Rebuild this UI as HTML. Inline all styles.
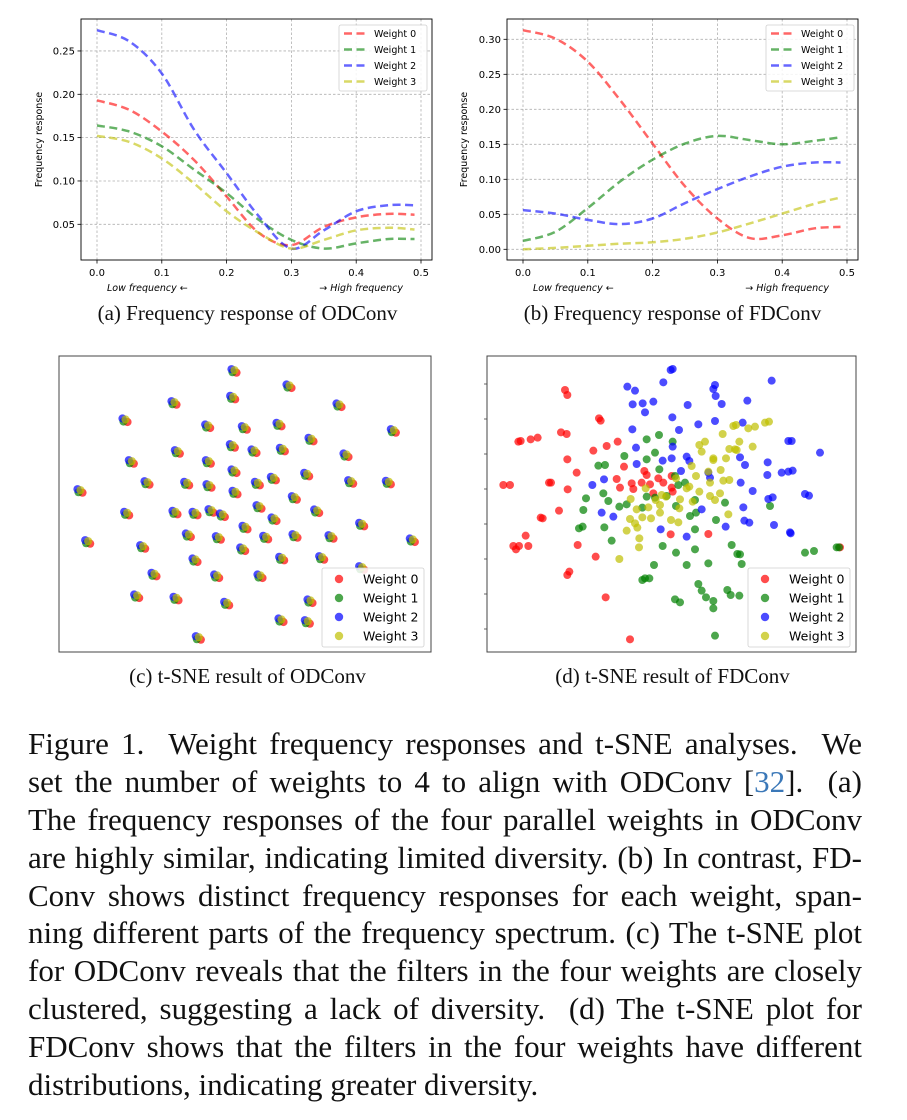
<!DOCTYPE html>
<html><head><meta charset="utf-8">
<style>
body{margin:0;background:#fff;width:907px;height:1120px;position:relative;overflow:hidden;font-family:"Liberation Serif",serif}
.cap{position:absolute;font-size:21px;color:#111;text-align:center;white-space:nowrap}
#text{position:absolute;left:28px;top:725px;width:834px;font-size:31px;line-height:37.9px;color:#111}
#text div{text-align:justify;text-align-last:justify;white-space:nowrap;height:37.9px}
#text div.last{text-align-last:left}
svg text{font-family:"DejaVu Sans","Liberation Sans",sans-serif}
</style></head><body>
<svg id="fig" width="907" height="700" style="position:absolute;left:0;top:0"></svg>
<div class="cap" style="left:60px;top:301px;width:375px">(a) Frequency response of ODConv</div>
<div class="cap" style="left:485px;top:301px;width:375px">(b) Frequency response of FDConv</div>
<div class="cap" style="left:60px;top:664px;width:375px">(c) t-SNE result of ODConv</div>
<div class="cap" style="left:485px;top:664px;width:375px">(d) t-SNE result of FDConv</div>
<div id="text">
<div>Figure 1.&nbsp; Weight frequency responses and t-SNE analyses.&nbsp; We</div>
<div>set the number of weights to 4 to align with ODConv [<span style="color:#3b78b8">32</span>].&nbsp; (a)</div>
<div>The frequency responses of the four parallel weights in ODConv</div>
<div>are highly similar, indicating limited diversity. (b) In contrast, FD-</div>
<div>Conv shows distinct frequency responses for each weight, span-</div>
<div>ning different parts of the frequency spectrum. (c) The t-SNE plot</div>
<div>for ODConv reveals that the filters in the four weights are closely</div>
<div>clustered, suggesting a lack of diversity.&nbsp; (d) The t-SNE plot for</div>
<div>FDConv shows that the filters in the four weights have different</div>
<div class="last">distributions, indicating greater diversity.</div>
</div>
<script>
const freqX=[0,0.05,0.1,0.15,0.2,0.25,0.3,0.35,0.4,0.45,0.49];
const odW0=[0.193,0.182,0.157,0.124,0.082,0.040,0.026,0.047,0.058,0.062,0.061];
const odW1=[0.164,0.157,0.140,0.113,0.086,0.055,0.032,0.022,0.028,0.033,0.033];
const odW2=[0.274,0.261,0.224,0.159,0.109,0.059,0.022,0.043,0.065,0.072,0.072];
const odW3=[0.152,0.145,0.126,0.097,0.065,0.040,0.022,0.032,0.043,0.046,0.044];
const fdW0=[0.313,0.301,0.268,0.213,0.151,0.090,0.044,0.016,0.020,0.030,0.032];
const fdW1=[0.012,0.025,0.059,0.097,0.128,0.151,0.162,0.156,0.150,0.155,0.160];
const fdW2=[0.056,0.051,0.042,0.036,0.044,0.066,0.086,0.104,0.118,0.124,0.124];
const fdW3=[0.000,0.002,0.005,0.008,0.010,0.015,0.024,0.037,0.051,0.065,0.074];
const xTicks=[0,0.1,0.2,0.3,0.4,0.5];
const odYTicks=[0.05,0.10,0.15,0.20,0.25];
const fdYTicks=[0,0.05,0.10,0.15,0.20,0.25,0.30];
const seriesNames=["Weight 0","Weight 1","Weight 2","Weight 3"];
const odTsne=[[537,77],[702,123],[852,180],[357,173],[210,225],[533,157],[1015,257],[458,243],[568,248],[672,238],[768,283],[367,320],[532,302],[597,318],[682,313],[873,330],[229,350],[460,350],[537,378],[755,388],[276,413],[395,415],[462,422],[655,400],[607,415],[887,410],[1000,412],[75,437],[540,442],[718,458],[215,505],[360,502],[420,505],[468,497],[502,510],[612,485],[785,498],[920,538],[657,522],[570,547],[98,590],[263,605],[400,570],[490,578],[632,577],[720,572],[828,575],[1072,585],[420,645],[563,612],[680,640],[800,638],[920,668],[297,688],[485,693],[615,693],[245,753],[363,760],[515,775],[765,768],[678,825],[757,830],[430,878]];
const fdTsne0=[[255,135],[262,150],[115,290],[122,288],[152,283],[173,278],[243,262],[260,267],[357,220],[362,227],[262,343],[290,383],[207,413],[213,413],[70,420],[90,420],[263,433],[237,497],[182,518],[188,520],[137,572],[100,603],[108,613],[117,603],[145,603],[293,600],[347,635],[262,690],[268,680],[377,757],[450,883],[340,317],[380,303],[413,290],[432,365],[410,402],[420,428],[455,415],[460,432],[493,378],[500,390],[485,413],[510,418],[520,445],[535,400],[550,413],[575,393],[575,428],[578,440],[572,568],[685,567],[1080,607]];
const fdTsne1=[[537,270],[500,283],[578,290],[433,333],[355,362],[375,360],[500,343],[525,323],[538,373],[615,413],[370,445],[385,468],[318,460],[310,495],[440,478],[418,485],[487,488],[500,455],[525,458],[560,453],[588,483],[630,513],[648,503],[645,465],[708,525],[735,473],[870,483],[297,550],[308,545],[373,547],[395,587],[548,603],[588,623],[645,553],[645,613],[620,660],[685,655],[755,600],[772,627],[780,628],[785,657],[522,660],[495,700],[487,705],[508,700],[655,717],[665,737],[678,757],[700,768],[700,790],[742,735],[752,750],[778,752],[585,763],[600,772],[705,872],[975,623],[1002,618],[1070,607],[1077,607],[585,393],[595,420]];
const fdTsne2=[[572,75],[578,72],[442,125],[465,137],[550,112],[458,178],[488,175],[495,202],[520,170],[705,120],[700,132],[707,153],[725,177],[802,167],[875,107],[623,180],[577,217],[597,255],[655,238],[705,228],[788,233],[457,253],[468,308],[470,357],[548,347],[578,305],[575,340],[620,335],[628,348],[603,378],[685,383],[690,398],[780,337],[795,360],[863,352],[862,390],[905,383],[925,380],[938,377],[925,288],[935,288],[1020,323],[782,413],[818,438],[975,447],[987,452],[865,462],[878,457],[790,487],[793,527],[808,533],[882,540],[930,562],[932,565],[737,545],[665,493],[620,575],[542,553],[400,515],[365,503],[337,420],[372,403]];
const fdTsne3=[[760,243],[768,240],[805,250],[825,245],[855,233],[867,230],[728,267],[658,300],[675,290],[665,320],[700,340],[700,345],[738,340],[748,312],[765,313],[778,290],[818,305],[770,315],[635,363],[648,393],[685,380],[722,375],[730,407],[748,405],[690,413],[628,425],[620,430],[600,463],[598,490],[638,470],[658,440],[690,453],[705,465],[720,445],[745,508],[588,400],[545,450],[558,455],[527,465],[540,480],[540,503],[505,487],[470,493],[452,462],[497,430],[487,517],[513,520],[450,522],[465,535],[472,548],[440,557],[478,580],[477,607],[418,642],[573,525],[595,532]];

const NS="http://www.w3.org/2000/svg";
const svg=document.getElementById('fig');
function mk(tag,attrs,parent){const e=document.createElementNS(NS,tag);for(const k in attrs)e.setAttribute(k,attrs[k]);(parent||svg).appendChild(e);return e;}
const lineColsA=["rgba(255,0,0,0.6)","rgba(0,128,0,0.6)","rgba(0,0,255,0.6)","rgba(191,191,0,0.6)"];
function smoothPath(pts){let d="M"+pts[0][0]+","+pts[0][1];for(let i=0;i<pts.length-1;i++){const p0=pts[Math.max(0,i-1)],p1=pts[i],p2=pts[i+1],p3=pts[Math.min(pts.length-1,i+2)];const c1=[p1[0]+(p2[0]-p0[0])/6,p1[1]+(p2[1]-p0[1])/6],c2=[p2[0]-(p3[0]-p1[0])/6,p2[1]-(p3[1]-p1[1])/6];d+=" C"+c1+" "+c2+" "+p2;}return d;}
function lineChart(o){
  const g=mk('g',{});
  
  
  const X=v=>o.x0+v*648, Y=v=>o.yRef-(v-o.vRef)*o.k;
  xTicks.forEach(t=>{const l=mk('line',{x1:X(t),x2:X(t),y1:o.top,y2:o.bot,stroke:'#b0b0b0','stroke-dasharray':'2.5,2','stroke-width':0.8},g);
    mk('line',{x1:X(t),x2:X(t),y1:o.bot,y2:o.bot+3.5,stroke:'#000','stroke-width':0.8},g);
    const tx=mk('text',{x:X(t),y:o.bot+16,'font-size':10,'text-anchor':'middle',fill:'#000'},g);tx.textContent=t.toFixed(1);});
  o.yt.forEach(t=>{const l=mk('line',{x1:o.left,x2:o.right,y1:Y(t),y2:Y(t),stroke:'#b0b0b0','stroke-dasharray':'2.5,2','stroke-width':0.8},g);
    mk('line',{x1:o.left-3.5,x2:o.left,y1:Y(t),y2:Y(t),stroke:'#000','stroke-width':0.8},g);
    const tx=mk('text',{x:o.left-6,y:Y(t)+3.5,'font-size':10,'text-anchor':'end',fill:'#000'},g);tx.textContent=t.toFixed(2);});
  o.series.forEach((s,i)=>{const p=mk('path',{d:smoothPath(freqX.map((x,j)=>[X(x),Y(s[j])])),fill:'none',stroke:lineColsA[i],'stroke-width':2.5,'stroke-dasharray':'8,4.5'},g);});
  const fr=mk('rect',{x:o.left,y:o.top,width:o.right-o.left,height:o.bot-o.top,fill:'none',stroke:'#000','stroke-width':0.9},g);
  const yl=mk('text',{x:0,y:0,'font-size':9.5,'text-anchor':'middle',transform:`translate(${o.ylx},${(o.top+o.bot)/2}) rotate(-90)`},g);yl.textContent='Frequency response';
  const l1=mk('text',{x:X(0)+10,y:o.bot+31,'font-size':9.5,'font-style':'italic'},g);l1.textContent='Low frequency \u2190';
  const l2=mk('text',{x:X(0.5)-18,y:o.bot+31,'font-size':9.5,'font-style':'italic','text-anchor':'end'},g);l2.textContent='\u2192 High frequency';
  const lg=mk('g',{},g);
  mk('rect',{x:o.lgx,y:25,width:88,height:66,rx:2,fill:'rgba(255,255,255,0.85)',stroke:'#d0d0d0','stroke-width':0.8},lg);
  seriesNames.forEach((n,i)=>{const y=33.5+i*16;mk('line',{x1:o.lgx+5,x2:o.lgx+27,y1:y,y2:y,stroke:lineColsA[i],'stroke-width':2.5,'stroke-dasharray':'8,4.5'},lg);
    const t=mk('text',{x:o.lgx+35,y:y+3.5,'font-size':9.5},lg);t.textContent=n;});
}
lineChart({name:'chart-a-odconv-frequency',left:81,right:432,top:19,bot:260,x0:97,yRef:224.3,vRef:0.05,k:866.7,yt:odYTicks,series:[odW0,odW1,odW2,odW3],ylx:42,lgx:339});
lineChart({name:'chart-b-fdconv-frequency',left:507,right:858,top:19,bot:260,x0:523,yRef:249.3,vRef:0,k:700,yt:fdYTicks,series:[fdW0,fdW1,fdW2,fdW3],ylx:467,lgx:766});

const dotCols=["rgba(255,0,0,0.7)","rgba(0,128,0,0.7)","rgba(0,0,255,0.7)","rgba(191,191,0,0.7)"];
function frame(name,left,right,top,bot){const g=mk('g',{});
  mk('rect',{x:left,y:top,width:right-left,height:bot-top,fill:'#fff',stroke:'#444','stroke-width':1},g);return g;}
function legend(g,x,y){const lg=mk('g',{},g);
  mk('rect',{x:x,y:y,width:102,height:79,rx:2,fill:'rgba(255,255,255,0.85)',stroke:'#d0d0d0','stroke-width':0.8},lg);
  seriesNames.forEach((n,i)=>{const cy=y+11+i*19;mk('circle',{cx:x+17,cy:cy,r:4.2,fill:dotCols[i]},lg);
    const t=mk('text',{x:x+41,y:cy+4.5,'font-size':12.5},lg);t.textContent=n;});}
{const g=frame('chart-c-odconv-tsne',59,431,356,652);
 const X=v=>55+v/3, Y=v=>345+v/3;
 const offs=[[2.5,2],[-1.5,1.5],[-2.5,-1.5],[0.5,-0.5]];
 odTsne.forEach(p=>{[0,1,2,3].forEach(i=>{const c=mk('circle',{cx:X(p[0])+offs[i][0],cy:Y(p[1])+offs[i][1],r:4.1,fill:dotCols[i]},g);});});
 legend(g,322,568);}
{const g=frame('chart-d-fdconv-tsne',487,856,356,652);
 const X=v=>480+v/3, Y=v=>345+v/3;
 [fdTsne0,fdTsne1,fdTsne2,fdTsne3].forEach((arr,i)=>arr.forEach(p=>{const c=mk('circle',{cx:X(p[0]),cy:Y(p[1]),r:4,fill:dotCols[i]},g);}));
 for(let k=0;k<8;k++){mk('line',{x1:487,x2:484,y1:384+k*35,y2:384+k*35,stroke:'#444','stroke-width':0.8},g);}
 legend(g,748,568);}
</script>
</body></html>
